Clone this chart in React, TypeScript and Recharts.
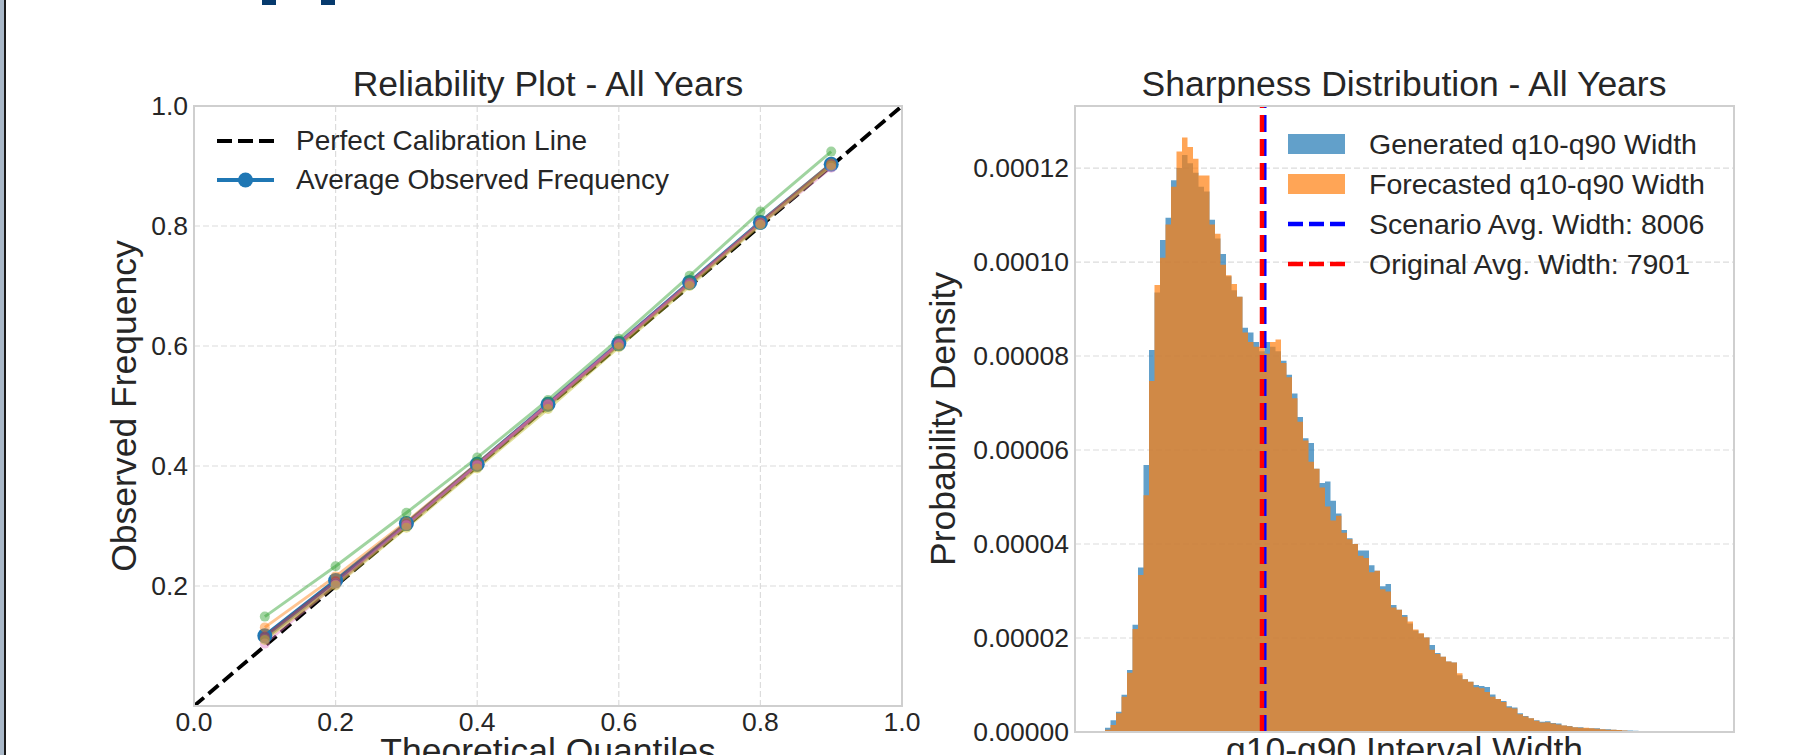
import React from 'react'
import { ComposedChart, Line, Area, XAxis, YAxis, CartesianGrid, ReferenceLine, Legend, Label } from 'recharts'

// reliability plot
const QUANTILES = [0.1, 0.2, 0.3, 0.4, 0.5, 0.6, 0.7, 0.8, 0.9]
const AVG_OBSERVED = [0.117, 0.209, 0.304, 0.403, 0.503, 0.604, 0.706, 0.806, 0.903]
const YEAR_A = [0.131, 0.216, 0.307, 0.404, 0.502, 0.603, 0.705, 0.806, 0.904]
const YEAR_B = [0.149, 0.233, 0.322, 0.414, 0.51, 0.612, 0.717, 0.824, 0.924]
const YEAR_C = [0.116, 0.208, 0.303, 0.402, 0.503, 0.604, 0.705, 0.805, 0.902]
const YEAR_D = [0.112, 0.205, 0.302, 0.402, 0.504, 0.605, 0.706, 0.806, 0.902]
const YEAR_E = [0.113, 0.204, 0.3, 0.398, 0.499, 0.601, 0.703, 0.804, 0.902]
const YEAR_F = [0.104, 0.202, 0.301, 0.401, 0.502, 0.603, 0.703, 0.803, 0.897]
const YEAR_G = [0.11, 0.201, 0.297, 0.396, 0.495, 0.598, 0.7, 0.802, 0.901]
const PERFECT_X = [0, 1]
const PERFECT_Y = [0, 1]
const REL_X_TICKS = [0, 0.2, 0.4, 0.6, 0.8, 1.0]
const REL_Y_TICKS = [0.2, 0.4, 0.6, 0.8, 1.0]

// sharpness histogram (density, in units of 1e-6)
const BIN_START = 679
const BIN_WIDTH = 253
const GEN_DENSITY_E6 = [
  0.9, 2.5, 4.3, 7.9, 13.2, 22.8, 35, 56.8, 81.3, 93.5,
  104.7, 109.4, 117.4, 120, 122.8, 121, 119, 116, 115, 109,
  105, 101.7, 97, 94, 92.6, 86, 85, 83, 81, 83,
  82, 81, 79, 76, 72, 67, 62.5, 61.5, 56, 53,
  53.3, 49.2, 46.5, 43, 41.2, 40, 38.6, 38.6, 35.5, 34.3,
  31, 31.5, 27, 26, 24.9, 23.1, 21.6, 20.9, 20.1, 18.5,
  16.8, 16, 15, 14.8, 12.1, 11.2, 10.7, 10, 9.8, 9.6,
  8, 7, 6.6, 5.5, 5.2, 4, 3.4, 2.9, 2.5, 2.2,
  2.3, 1.9, 1.8, 1.4, 1.3, 1, 1, 0.8, 0.8, 0.8,
  0.6, 0.6, 0.5, 0.4, 0.3, 0.3, 0.25, 0.2,
]
const FC_DENSITY_E6 = [
  0.5, 1.5, 4, 7.5, 12.6, 21.9, 33.4, 50.4, 74.7, 95.1,
  100.9, 108, 116, 123.5, 126.5, 124.5, 122, 118.4, 118.4, 108,
  106, 99.4, 97.2, 95.3, 92.6, 85, 83, 82, 82, 80.5,
  83, 83.5, 78.5, 75.5, 71, 66, 62, 57.5, 56, 52,
  48, 45, 46, 42.4, 41, 40, 37.5, 37, 34, 34.3,
  30.4, 29.9, 26.5, 26, 24.5, 23.5, 21.8, 21, 20.1, 17.5,
  16.6, 16, 15, 14.8, 12.5, 11.2, 10.7, 9.5, 9.3, 8.5,
  7.5, 7, 6.4, 5.2, 5, 3.8, 3.3, 2.9, 2.4, 2,
  2.1, 1.8, 1.6, 1.4, 1.2, 1, 0.9, 0.9, 0.8, 0.7,
  0.6, 0.5, 0.5, 0.4, 0.3, 0.1, 0.05, 0.05,
]
const SCENARIO_AVG = 8006
const ORIGINAL_AVG = 7901
const HIST_X_DOMAIN = [-701, 29613]
const HIST_Y_TICKS = [0, 0.00002, 0.00004, 0.00006, 0.00008, 0.0001, 0.00012]

const FONT = "'Liberation Sans', Arial, sans-serif"
const TEXT = '#262626'
const YEAR_COLORS = ['#ff7f0e', '#2ca02c', '#d62728', '#9467bd', '#8c564b', '#e377c2', '#bcbd22']
const YEARS = [YEAR_A, YEAR_B, YEAR_C, YEAR_D, YEAR_E, YEAR_F, YEAR_G]

const toPoints = (xs: number[], ys: number[]) => xs.map((x, i) => ({ x, y: ys[i] }))

const histRows = GEN_DENSITY_E6.map((g, i) => ({
  x: BIN_START + i * BIN_WIDTH,
  gen: g / 1e6,
  fc: FC_DENSITY_E6[i] / 1e6,
}))
histRows.push({ x: BIN_START + GEN_DENSITY_E6.length * BIN_WIDTH, gen: 0, fc: 0 })

const tickStyle = { fontFamily: FONT, fontSize: 26.5, fill: TEXT }

const LeftLegend = () => (
  <div style={{ fontFamily: FONT, fontSize: 28, color: TEXT }}>
    <div style={{ display: 'flex', alignItems: 'center', height: 39 }}>
      <svg width={57} height={20}>
        <line x1={0} y1={10} x2={57} y2={10} stroke="#000" strokeWidth={4} strokeDasharray="15 6" />
      </svg>
      <span style={{ marginLeft: 22, whiteSpace: 'nowrap' }}>Perfect Calibration Line</span>
    </div>
    <div style={{ display: 'flex', alignItems: 'center', height: 39 }}>
      <svg width={57} height={20}>
        <line x1={0} y1={10} x2={57} y2={10} stroke="#1f77b4" strokeWidth={4} />
        <circle cx={28.5} cy={10} r={7.5} fill="#1f77b4" />
      </svg>
      <span style={{ marginLeft: 22, whiteSpace: 'nowrap' }}>Average Observed Frequency</span>
    </div>
  </div>
)

const RightLegend = () => {
  const row = (icon: React.ReactNode, text: string) => (
    <div style={{ display: 'flex', alignItems: 'center', height: 40 }}>
      <svg width={57} height={22}>{icon}</svg>
      <span style={{ marginLeft: 24, whiteSpace: 'nowrap' }}>{text}</span>
    </div>
  )
  return (
    <div style={{ fontFamily: FONT, fontSize: 28.5, color: TEXT }}>
      {row(<rect x={0} y={1} width={57} height={20} fill="#1f77b4" fillOpacity={0.7} />, 'Generated q10-q90 Width')}
      {row(<rect x={0} y={1} width={57} height={20} fill="#ff7f0e" fillOpacity={0.7} />, 'Forecasted q10-q90 Width')}
      {row(<line x1={0} y1={11} x2={57} y2={11} stroke="#0000ff" strokeWidth={4.5} strokeDasharray="15 6" />, `Scenario Avg. Width: ${SCENARIO_AVG}`)}
      {row(<line x1={0} y1={11} x2={57} y2={11} stroke="#ff0000" strokeWidth={4.5} strokeDasharray="15 6" />, `Original Avg. Width: ${ORIGINAL_AVG}`)}
    </div>
  )
}

const yTitle = (text: string, gap: number) => (props: any) => {
  const vb = props.viewBox || {}
  const x = (vb.x || 0) + (vb.width || 0) - gap
  const y = (vb.y || 0) + (vb.height || 0) / 2
  return (
    <text x={x} y={y} transform={`rotate(-90, ${x}, ${y})`} textAnchor="middle"
      fontFamily={FONT} fontSize={35.5} fill={TEXT}>{text}</text>
  )
}

const xTitle = (text: string, gap: number) => (props: any) => {
  const vb = props.viewBox || {}
  const x = (vb.x || 0) + (vb.width || 0) / 2
  const y = (vb.y || 0) + gap
  return (
    <text x={x} y={y} textAnchor="middle" fontFamily={FONT} fontSize={35.5} fill={TEXT}>{text}</text>
  )
}

export default function App() {
  return (
    <div style={{ position: 'absolute', left: 0, top: 0, width: 1794, height: 755, overflow: 'hidden', background: '#fff' }}>
      <div style={{ position: 'absolute', left: 0, top: 0, width: 4, height: 755, background: '#a9b8c8' }} />
      <div style={{ position: 'absolute', left: 4, top: 0, width: 2, height: 755, background: '#1a1a1a' }} />
      <div style={{ position: 'absolute', left: 262, top: 0, width: 14, height: 5, background: '#063a6d' }} />
      <div style={{ position: 'absolute', left: 321, top: 0, width: 14, height: 5, background: '#063a6d' }} />

      <div style={{ position: 'absolute', left: 0, top: 0 }}>
        <ComposedChart width={920} height={755} margin={{ top: 106, left: 134, right: 18, bottom: 19 }}>
          <CartesianGrid stroke="#dcdcdc" strokeDasharray="6 3" strokeWidth={1.2} />
          <XAxis dataKey="x" type="number" domain={[0, 1]} ticks={REL_X_TICKS} interval={0} height={30}
            axisLine={false} tickLine={false} tickSize={0} tickMargin={6} tick={tickStyle}
            tickFormatter={(v: number) => v.toFixed(1)} allowDataOverflow>
            <Label content={xTitle('Theoretical Quantiles', 57)} />
          </XAxis>
          <YAxis type="number" domain={[0, 1]} ticks={REL_Y_TICKS} interval={0} width={60}
            axisLine={false} tickLine={false} tickSize={0} tickMargin={6} tick={tickStyle}
            tickFormatter={(v: number) => v.toFixed(1)} allowDataOverflow>
            <Label content={yTitle('Observed Frequency', 58)} />
          </YAxis>
          <Line data={toPoints(PERFECT_X, PERFECT_Y)} dataKey="y" stroke="#000" strokeWidth={3.8}
            strokeDasharray="13 6" dot={false} activeDot={false} isAnimationActive={false} />
          <Line data={toPoints(QUANTILES, AVG_OBSERVED)} dataKey="y" stroke="#1f77b4" strokeWidth={4}
            dot={{ r: 7.5, fill: '#1f77b4', stroke: 'none' }} activeDot={false} isAnimationActive={false} />
          {YEARS.map((vals, i) => (
            <Line key={i} data={toPoints(QUANTILES, vals)} dataKey="y" stroke={YEAR_COLORS[i]} strokeOpacity={0.45}
              strokeWidth={3} dot={{ r: 5, fill: YEAR_COLORS[i], fillOpacity: 0.45, stroke: 'none' }}
              activeDot={false} isAnimationActive={false} />
          ))}
          <Legend layout="vertical" align="center" verticalAlign="middle" content={LeftLegend}
            wrapperStyle={{ left: 217, top: 121.5, width: 'auto' }} />
        </ComposedChart>
      </div>

      <div style={{ position: 'absolute', left: 920, top: 0 }}>
        <ComposedChart width={874} height={755} data={histRows} margin={{ top: 106, left: 55, right: 60, bottom: 3 }}>
          <CartesianGrid stroke="#dcdcdc" strokeDasharray="6 3" strokeWidth={1.2} vertical={false} />
          <XAxis dataKey="x" type="number" domain={HIST_X_DOMAIN} height={20} tick={false}
            axisLine={false} tickLine={false} allowDataOverflow>
            <Label content={xTitle('q10-q90 Interval Width', 30)} />
          </XAxis>
          <YAxis type="number" domain={[0, 0.0001332]} ticks={HIST_Y_TICKS} interval={0} width={100}
            axisLine={false} tickLine={false} tickSize={0} tickMargin={6} tick={tickStyle}
            tickFormatter={(v: number) => v.toFixed(5)} allowDataOverflow>
            <Label content={yTitle('Probability Density', 120)} />
          </YAxis>
          <Area dataKey="gen" type="stepAfter" stroke="none" fill="#1f77b4" fillOpacity={0.7}
            dot={false} activeDot={false} isAnimationActive={false} />
          <Area dataKey="fc" type="stepAfter" stroke="none" fill="#ff7f0e" fillOpacity={0.7}
            dot={false} activeDot={false} isAnimationActive={false} />
          <ReferenceLine x={SCENARIO_AVG} stroke="#0000ff" strokeWidth={4.5} strokeDasharray="17 7" />
          <ReferenceLine x={ORIGINAL_AVG} stroke="#ff0000" strokeWidth={4.5} strokeDasharray="17 7" />
          <Legend layout="vertical" align="center" verticalAlign="middle" content={RightLegend}
            wrapperStyle={{ left: 368, top: 124, width: 'auto' }} />
        </ComposedChart>
      </div>

      <svg width={1794} height={755} style={{ position: 'absolute', left: 0, top: 0, pointerEvents: 'none' }}>
        <rect x={194} y={106} width={708} height={600} fill="none" stroke="#cfcfcf" strokeWidth={2} />
        <rect x={1075} y={106} width={659} height={626} fill="none" stroke="#cfcfcf" strokeWidth={2} />
        <text x={548} y={96} textAnchor="middle" fontFamily={FONT} fontSize={35.5} fill={TEXT}>Reliability Plot - All Years</text>
        <text x={1404} y={96} textAnchor="middle" fontFamily={FONT} fontSize={35.5} fill={TEXT}>Sharpness Distribution - All Years</text>
      </svg>
    </div>
  )
}
